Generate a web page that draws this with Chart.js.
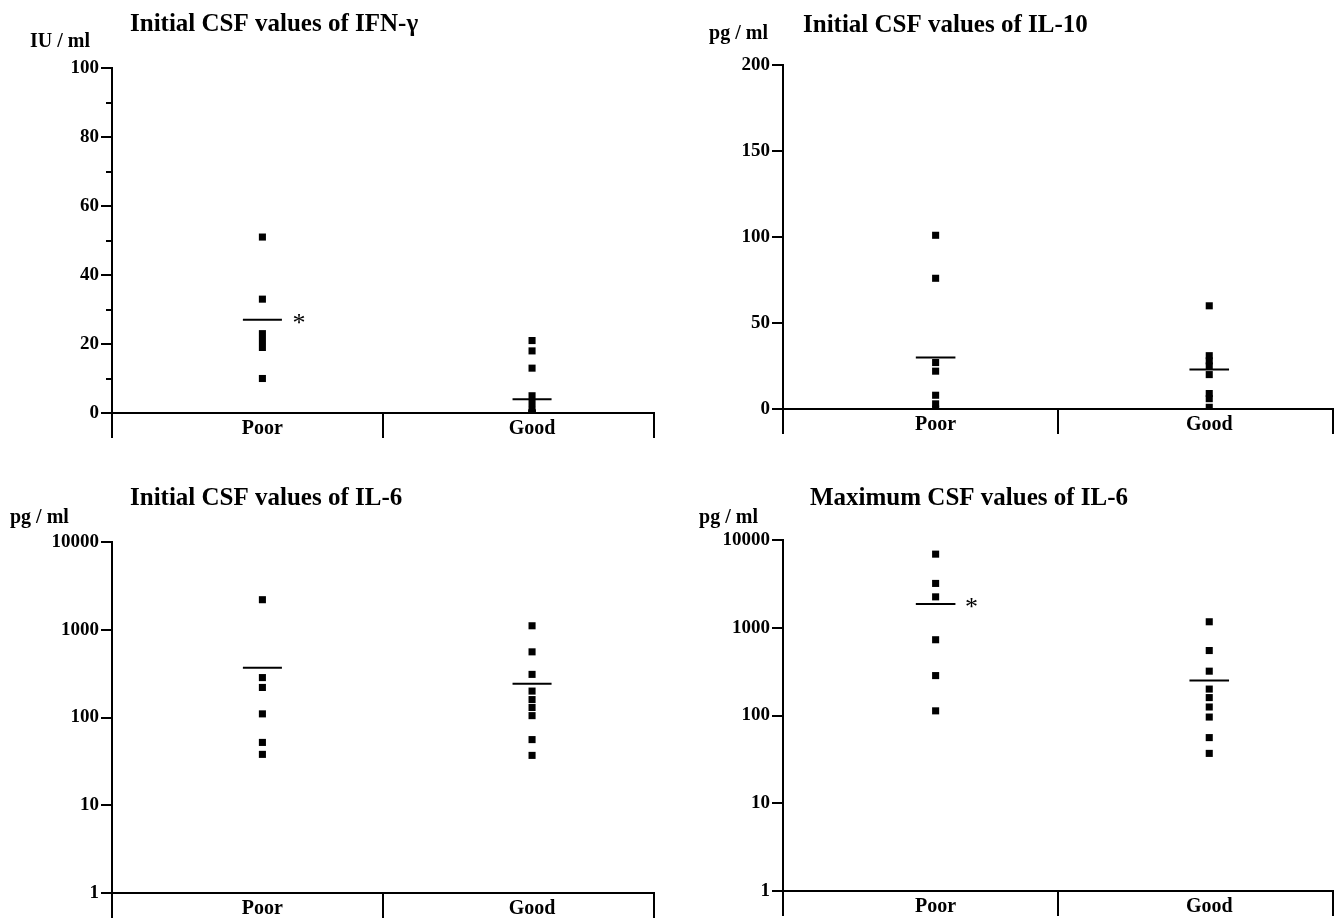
<!DOCTYPE html>
<html>
<head>
<meta charset="utf-8">
<script src="https://cdn.jsdelivr.net/npm/chart.js@4.4.0/dist/chart.umd.min.js"></script>
<style>
  body { margin: 0; background: #fff; width: 1338px; height: 922px; position: relative; overflow: hidden; }
  canvas { position: absolute; }
</style>
</head>
<body>
<canvas id="c1" width="669" height="460" style="left:0;top:0"></canvas>
<canvas id="c2" width="669" height="460" style="left:669px;top:0"></canvas>
<canvas id="c3" width="669" height="462" style="left:0;top:460px"></canvas>
<canvas id="c4" width="669" height="462" style="left:669px;top:460px"></canvas>
<script>
// groups on the x axis
const groups = ['Poor', 'Good'];

// Initial CSF IFN-gamma (IU/ml)
const ifnPoor = [51, 33, 23, 21, 19, 10];
const ifnGood = [21, 18, 13, 5, 3, 1, 0, 0, 0];
const ifnMean = [27, 4];

// Initial CSF IL-10 (pg/ml)
const il10Poor = [101, 76, 27, 22, 8, 3, 0];
const il10Good = [60, 31, 28, 25, 20, 9, 6, 1];
const il10Mean = [30, 23];

// Initial CSF IL-6 (pg/ml)
const il6InitPoor = [2200, 285, 220, 110, 52, 38];
const il6InitGood = [1110, 560, 310, 200, 160, 130, 105, 56, 37];
const il6InitMean = [370, 243];

// Maximum CSF IL-6 (pg/ml)
const il6MaxPoor = [6900, 3200, 2250, 730, 285, 113];
const il6MaxGood = [1170, 550, 320, 200, 160, 125, 96, 56, 37];
const il6MaxMean = [1870, 250];

// y tick values
const ticksIfn = [0, 20, 40, 60, 80, 100];
const minorIfn = [10, 30, 50, 70, 90];
const ticksIl10 = [0, 50, 100, 150, 200];
const ticksLog = [1, 10, 100, 1000, 10000];

const serif = '"Liberation Serif", "Times New Roman", serif';
const groupX = [0.555, 1.55];   // where each group's column sits on the 0..2 axis
const halfBar = 0.072;

// titles, unit labels and significance stars
const textPlugin = {
    id: 'panelText',
    afterDraw(chart, args, opts) {
        const ctx = chart.ctx;
        ctx.save();
        ctx.fillStyle = '#000';
        ctx.textBaseline = 'alphabetic';
        ctx.font = 'bold 25px ' + serif;
        ctx.textAlign = 'left';
        ctx.fillText(opts.title, opts.titleX, opts.titleY);
        ctx.font = 'bold 20px ' + serif;
        ctx.textAlign = opts.unitAlign || 'left';
        ctx.fillText(opts.unit, opts.unitX, opts.unitY);
        if (opts.star) {
            const xs = chart.scales.x, ys = chart.scales.y;
            ctx.font = '26px ' + serif;
            ctx.textAlign = 'center';
            ctx.textBaseline = 'middle';
            ctx.fillText('*', xs.getPixelForValue(opts.star.x), ys.getPixelForValue(opts.star.y) + 4);
        }
        ctx.restore();
    }
};

function makeChart(id, cfg) {
    const pts = (vals, g) => vals.map(v => ({ x: groupX[g], y: v }));
    const meanLine = (m, g) => [{ x: groupX[g] - halfBar, y: m }, { x: groupX[g] + halfBar, y: m }];
    const dotStyle = { type: 'scatter', pointStyle: 'rect', pointRadius: 5, pointHoverRadius: 5,
        backgroundColor: '#000', borderColor: '#000', borderWidth: 0 };
    const lineStyle = { type: 'line', borderColor: '#000', borderWidth: 2, pointRadius: 0, fill: false };

    const yMin = cfg.yTicks[0];
    const yMax = cfg.yTicks[cfg.yTicks.length - 1];
    const scales = {
        x: {
            type: 'linear',
            min: 0,
            max: 2,
            afterBuildTicks: s => { s.ticks = [0, groupX[0], 1, groupX[1], 2].map(v => ({ value: v })); },
            afterFit: s => { s.height = cfg.xHeight; },
            border: { color: '#000', width: 2 },
            grid: {
                drawOnChartArea: false, tickLength: 25, lineWidth: 2,
                tickColor: c => (c.index % 2 === 0 ? '#000' : 'rgba(0,0,0,0)')
            },
            ticks: {
                color: '#000', padding: -21, maxRotation: 0, autoSkip: false,
                font: { family: serif, size: 20, weight: 'bold' },
                callback: (v, i) => (i === 1 ? groups[0] : i === 3 ? groups[1] : '')
            }
        },
        y: {
            type: cfg.log ? 'logarithmic' : 'linear',
            min: yMin,
            max: yMax,
            weight: 1,
            afterBuildTicks: s => { s.ticks = cfg.yTicks.map(v => ({ value: v })); },
            afterFit: s => { s.width = cfg.yWidth; },
            border: { color: '#000', width: 2 },
            grid: { drawOnChartArea: false, tickLength: 11, tickColor: '#000', lineWidth: 2 },
            ticks: { color: '#000', padding: 2, font: { family: serif, size: 19, weight: 'bold' },
                callback: v => String(v) }
        }
    };
    if (cfg.minor) {
        // short unlabeled ticks between the major ones
        scales.yMinor = {
            type: 'linear',
            position: 'left',
            min: yMin,
            max: yMax,
            weight: 0,
            afterBuildTicks: s => { s.ticks = cfg.minor.map(v => ({ value: v })); },
            afterFit: s => { s.width = 0; },
            border: { display: false },
            grid: { drawOnChartArea: false, tickLength: 6, tickColor: '#000', lineWidth: 2 },
            ticks: { display: false }
        };
    }

    new Chart(document.getElementById(id), {
        data: {
            datasets: [
                { ...dotStyle, data: pts(cfg.poor, 0) },
                { ...dotStyle, data: pts(cfg.good, 1) },
                { ...lineStyle, data: meanLine(cfg.mean[0], 0) },
                { ...lineStyle, data: meanLine(cfg.mean[1], 1) }
            ]
        },
        options: {
            responsive: false,
            animation: false,
            layout: { padding: { top: cfg.top, right: cfg.right, left: 0, bottom: 0 } },
            scales: scales,
            plugins: {
                legend: { display: false },
                tooltip: { enabled: false },
                panelText: cfg.text
            }
        },
        plugins: [textPlugin]
    });
}

makeChart('c1', {
    poor: ifnPoor, good: ifnGood, mean: ifnMean, yTicks: ticksIfn, minor: minorIfn,
    top: 68, right: 15, yWidth: 112, xHeight: 47,
    text: { title: 'Initial CSF values of IFN-\u03b3', titleX: 130, titleY: 31,
        unit: 'IU / ml', unitX: 30, unitY: 47, star: { x: 0.69, y: ifnMean[0] } }
});

makeChart('c2', {
    poor: il10Poor, good: il10Good, mean: il10Mean, yTicks: ticksIl10,
    top: 65, right: 3, yWidth: 114, xHeight: 51,
    text: { title: 'Initial CSF values of IL-10', titleX: 134, titleY: 32,
        unit: 'pg / ml', unitX: 99, unitY: 39, unitAlign: 'right' }
});

makeChart('c3', {
    poor: il6InitPoor, good: il6InitGood, mean: il6InitMean, yTicks: ticksLog, log: true,
    top: 82, right: 15, yWidth: 112, xHeight: 29,
    text: { title: 'Initial CSF values of IL-6', titleX: 130, titleY: 45,
        unit: 'pg / ml', unitX: 10, unitY: 63 }
});

makeChart('c4', {
    poor: il6MaxPoor, good: il6MaxGood, mean: il6MaxMean, yTicks: ticksLog, log: true,
    top: 80, right: 3, yWidth: 114, xHeight: 31,
    text: { title: 'Maximum CSF values of IL-6', titleX: 141, titleY: 45,
        unit: 'pg / ml', unitX: 89, unitY: 63, unitAlign: 'right', star: { x: 0.685, y: il6MaxMean[0] } }
});
</script>
</body>
</html>
